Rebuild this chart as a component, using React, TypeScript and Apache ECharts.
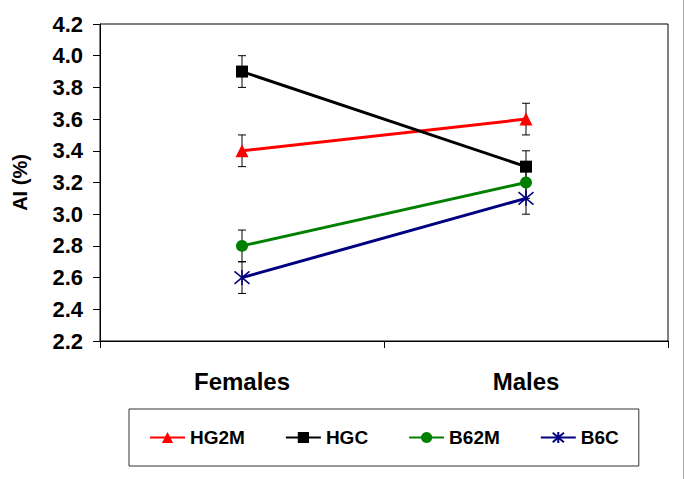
import React, { useEffect, useRef } from "react";
import * as echarts from "echarts";

const categories = ["Females", "Males"];
const seriesNames = ["HG2M", "HGC", "B62M", "B6C"];
const hg2m = [3.4, 3.6];
const hgc = [3.9, 3.3];
const b62m = [2.8, 3.2];
const b6c = [2.6, 3.1];
const hg2mErr = [0.1, 0.1];
const hgcErr = [0.1, 0.1];
const b62mErr = [0.1, 0.1];
const b6cErr = [0.1, 0.1];
const yTicks = ["2.2", "2.4", "2.6", "2.8", "3.0", "3.2", "3.4", "3.6", "3.8", "4.0", "4.2"];

const FONT = "'Liberation Sans', Arial, sans-serif";
const ASTERISK = "path://M0,0 L10,10 M10,0 L0,10 M5,-1 L5,11";

export default function App() {
  const ref = useRef<HTMLDivElement>(null);
  useEffect(() => {
    if (!ref.current) return;
    const chart = echarts.init(ref.current, null, { renderer: "svg" });
    const values = [hg2m, hgc, b62m, b6c];
    const errs = [hg2mErr, hgcErr, b62mErr, b6cErr];
    const colors = ["#ff0000", "#000000", "#008000", "#000080"];
    const symbols = ["triangle", "rect", "circle", ASTERISK];
    const sizes = [13, 12, 12, 15];

    const errData: number[][] = [];
    values.forEach((arr, s) => {
      arr.forEach((v, i) => {
        errData.push([i, v - errs[s][i], v + errs[s][i]]);
      });
    });

    const lineSeries = seriesNames.map((name, s) => ({
      name,
      type: "line",
      data: values[s],
      symbol: symbols[s],
      symbolSize: sizes[s],
      z: 3,
      lineStyle: { color: colors[s], width: 3 },
      itemStyle: {
        color: s === 3 ? "none" : colors[s],
        borderColor: colors[s],
        borderWidth: s === 3 ? 1.5 : 0,
      },
    }));

    chart.setOption({
      animation: false,
      textStyle: { fontFamily: FONT },
      grid: {
        left: 100,
        right: 17,
        top: 24,
        bottom: 138,
        show: true,
        borderColor: "#000",
        borderWidth: 1,
      },
      xAxis: {
        type: "category",
        data: categories,
        boundaryGap: true,
        axisLine: { lineStyle: { color: "#000", width: 1 } },
        axisTick: { show: true, length: 7, lineStyle: { color: "#000" } },
        axisLabel: {
          margin: 28,
          color: "#000",
          fontSize: 24,
          fontWeight: "bold",
          fontFamily: FONT,
        },
      },
      yAxis: {
        type: "value",
        min: 2.2,
        max: 4.2,
        interval: 0.2,
        name: "AI (%)",
        nameLocation: "middle",
        nameGap: 70,
        nameTextStyle: { fontSize: 20, fontWeight: "bold", color: "#000", fontFamily: FONT },
        splitLine: { show: false },
        axisLine: { show: true, lineStyle: { color: "#000", width: 1 } },
        axisTick: { show: true, length: 7, lineStyle: { color: "#000" } },
        axisLabel: {
          margin: 17,
          color: "#000",
          fontSize: 22,
          fontWeight: "bold",
          fontFamily: FONT,
          formatter: (v: number) => {
            const idx = Math.round((v - 2.2) / 0.2);
            return yTicks[idx] ?? v.toFixed(1);
          },
        },
      },
      legend: {
        data: seriesNames,
        left: 129,
        top: 409,
        orient: "horizontal",
        itemWidth: 35,
        itemHeight: 14,
        itemGap: 40,
        padding: [19, 20, 19, 20],
        borderColor: "#333",
        borderWidth: 1,
        textStyle: { fontSize: 19, fontWeight: "bold", color: "#000", fontFamily: FONT },
      },
      graphic: [
        {
          type: "line",
          shape: { x1: 683.5, y1: 0, x2: 683.5, y2: 479 },
          style: { stroke: "#aaaaaa", lineWidth: 1 },
        },
      ],
      series: [
        {
          type: "custom",
          name: "errors",
          z: 2,
          data: errData,
          renderItem: (params: any, api: any) => {
            const x = api.value(0);
            const lo = api.coord([x, api.value(1)]);
            const hi = api.coord([x, api.value(2)]);
            const w = 4;
            const st = { stroke: "#000", lineWidth: 1 };
            return {
              type: "group",
              children: [
                { type: "line", shape: { x1: lo[0], y1: lo[1], x2: hi[0], y2: hi[1] }, style: st },
                { type: "line", shape: { x1: lo[0] - w, y1: lo[1], x2: lo[0] + w, y2: lo[1] }, style: st },
                { type: "line", shape: { x1: hi[0] - w, y1: hi[1], x2: hi[0] + w, y2: hi[1] }, style: st },
              ],
            };
          },
        },
        ...lineSeries,
      ],
    });
    return () => chart.dispose();
  }, []);
  return (
    <div
      ref={ref}
      style={{ position: "fixed", left: 0, top: 0, width: 685, height: 479, background: "#fff" }}
    />
  );
}
